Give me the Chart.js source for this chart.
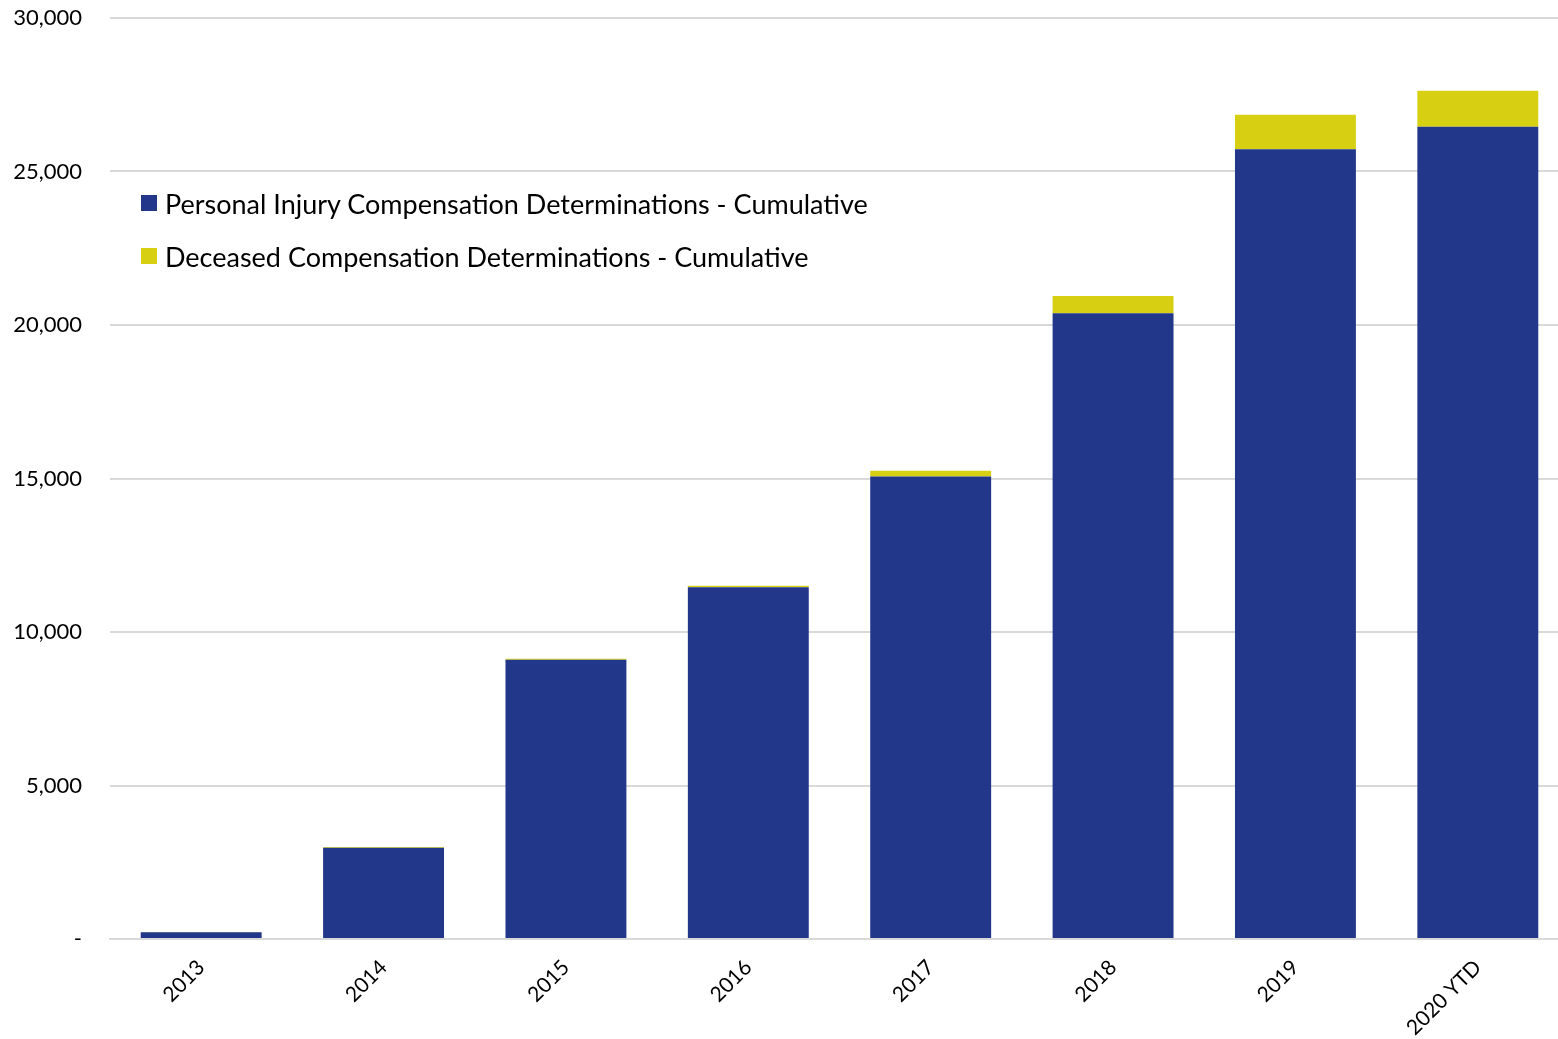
<!DOCTYPE html>
<html>
<head>
<meta charset="utf-8">
<script src="https://cdn.jsdelivr.net/npm/chart.js@4/dist/chart.umd.min.js"></script>
<style>
  html, body { margin: 0; padding: 0; background: #fff; overflow: hidden; }
  #wrap { position: relative; width: 1558px; height: 1039px; overflow: hidden; }
  #legend { position: absolute; left: 141px; top: 186px; font-family: Lato, sans-serif; font-size: 27px; color: #000; }
  .item { display: flex; align-items: center; height: 34px; margin-bottom: 19px; }
  .sw { width: 16px; height: 16px; margin-right: 8px; }
</style>
</head>
<body>
<div id="wrap">
  <canvas id="c" width="1569" height="1039"></canvas>
  <div id="legend"></div>
</div>
<script>
const categories = ["2013", "2014", "2015", "2016", "2017", "2018", "2019", "2020 YTD"];
const personalInjury = [220, 2975, 9100, 11460, 15065, 20380, 25728, 26455];
const deceased = [5, 25, 30, 50, 190, 565, 1120, 1175];
const seriesNames = ["Personal Injury Compensation Determinations - Cumulative", "Deceased Compensation Determinations - Cumulative"];
const colors = ["#22378A", "#D7D012"];

const legend = document.getElementById('legend');
seriesNames.forEach((n, i) => {
  const d = document.createElement('div'); d.className = 'item';
  const s = document.createElement('div'); s.className = 'sw'; s.style.background = colors[i];
  const t = document.createElement('span'); t.textContent = n;
  d.appendChild(s); d.appendChild(t); legend.appendChild(d);
});

new Chart(document.getElementById('c'), {
  type: 'bar',
  data: {
    labels: categories,
    datasets: [
      { label: seriesNames[0], data: personalInjury, backgroundColor: colors[0], barPercentage: 0.663, categoryPercentage: 1 },
      { label: seriesNames[1], data: deceased, backgroundColor: colors[1], barPercentage: 0.663, categoryPercentage: 1 }
    ]
  },
  options: {
    responsive: false,
    animation: false,
    layout: { padding: { top: 18, right: 0, left: 0, bottom: 0 } },
    plugins: { legend: { display: false }, tooltip: { enabled: false } },
    scales: {
      x: {
        stacked: true,
        grid: { display: false },
        border: { display: true, color: '#D9D9D9', width: 2 },
        ticks: { minRotation: 45, maxRotation: 45, color: '#000', font: { family: 'Lato, sans-serif', size: 21 }, padding: 8 },
        afterFit: (s) => { s.height = 100; s.paddingTop = 0; s.paddingBottom = 0; s.paddingLeft = 0; s.paddingRight = 0; }
      },
      y: {
        stacked: true,
        min: 0, max: 30000,
        grid: { color: '#D9D9D9', lineWidth: 2, drawTicks: false },
        border: { display: false },
        ticks: {
          stepSize: 5000,
          color: '#000',
          padding: 28,
          font: { family: 'Lato, sans-serif', size: 22 },
          callback: (v) => v === 0 ? '-' : v.toLocaleString('en-US')
        },
        afterFit: (s) => { s.width = 110; s.paddingTop = 0; s.paddingBottom = 0; }
      }
    }
  }
});
</script>
</body>
</html>
